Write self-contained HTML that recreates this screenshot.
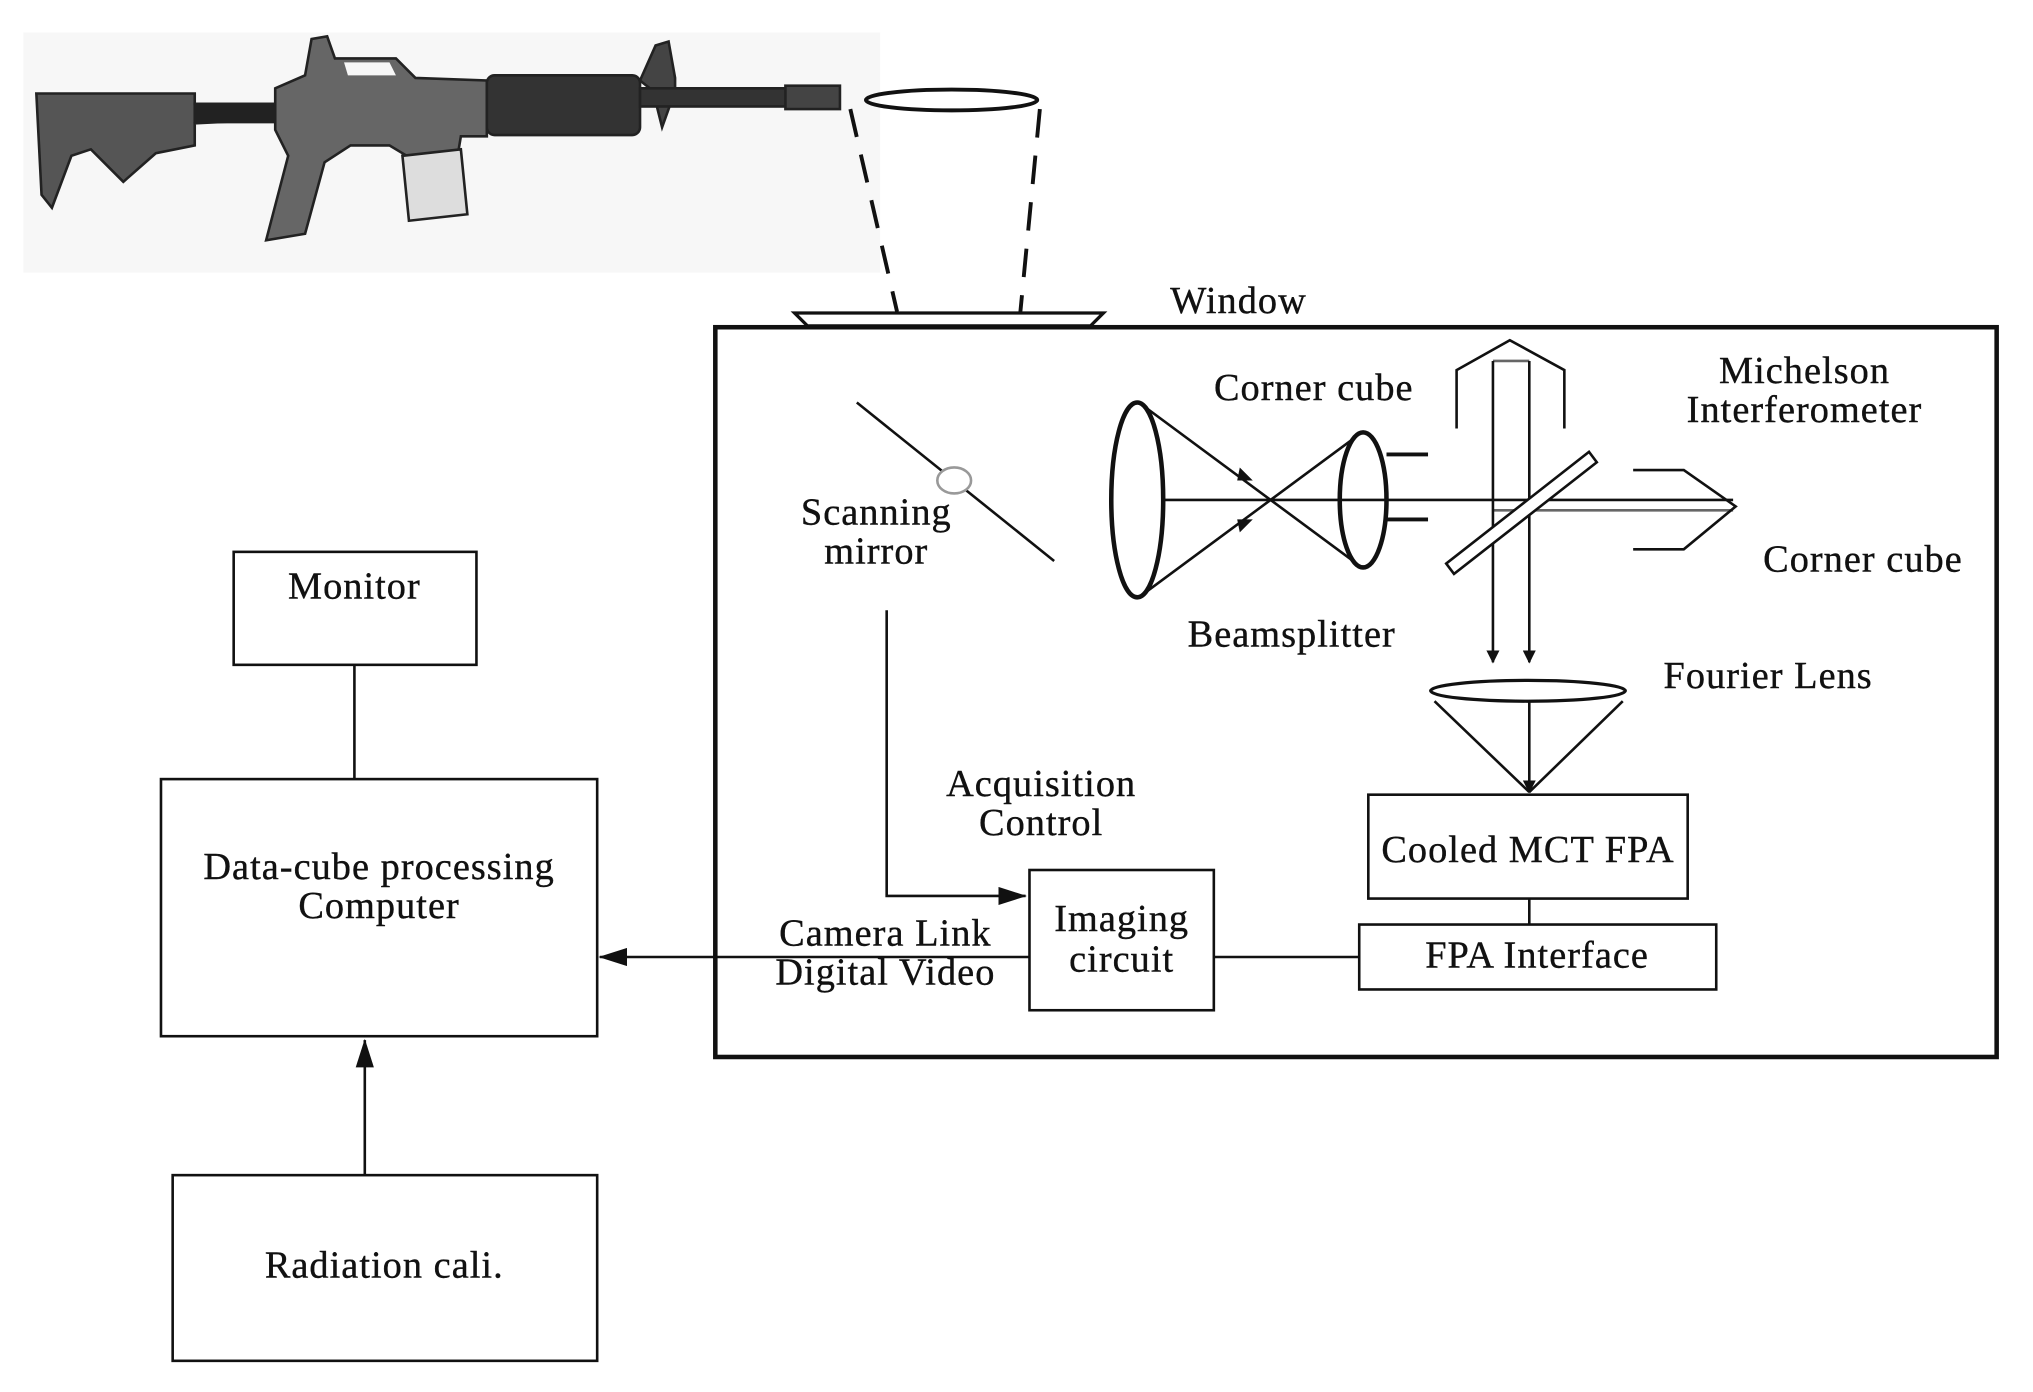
<!DOCTYPE html>
<html><head><style>html,body{margin:0;padding:0;background:#fff}svg{display:block}
text{font-family:"Liberation Serif",serif;font-size:29.5px;letter-spacing:0.8px;fill:#111;stroke:#111;stroke-width:0.3px}</style></head>
<body>
<svg width="2033" height="1392" viewBox="0 0 1566 1072" preserveAspectRatio="none" xmlns="http://www.w3.org/2000/svg">
<defs><marker id="a" markerWidth="10" markerHeight="10" refX="9" refY="5" orient="auto" markerUnits="userSpaceOnUse" viewBox="0 0 10 10"><path d="M0,0 L10,5 L0,10z" fill="#111"/></marker>
<marker id="b" markerWidth="22" markerHeight="14" refX="21" refY="7" orient="auto" markerUnits="userSpaceOnUse" viewBox="0 0 22 14"><path d="M0,0 L22,7 L0,14z" fill="#111"/></marker></defs>
<rect x="18" y="25" width="660" height="185" fill="#f7f7f7"/>
<g fill="#3a3a3a" stroke="#222" stroke-width="2">
<path d="M28,72 L150,72 L150,80 L210,80 L210,92 L150,95 L150,112 L120,118 L95,140 L70,115 L55,120 L40,160 L32,150 Z" fill="#555"/>
<rect x="150" y="80" width="65" height="14" fill="#222"/>
<path d="M212,68 L235,58 L240,30 L252,28 L258,45 L305,45 L320,60 L375,62 L375,105 L355,105 L350,135 L330,130 L300,112 L270,112 L250,125 L235,180 L205,185 L222,120 L212,100 Z" fill="#666"/>
<path d="M265,48 L300,48 L305,58 L268,58 Z" fill="#f7f7f7" stroke="none"/>
<path d="M310,120 L355,115 L360,165 L315,170 Z" fill="#ddd"/>
<rect x="375" y="58" width="118" height="46" rx="6" fill="#333"/>
<path d="M493,62 L505,35 L515,32 L520,60 L520,70 L510,98 L503,70 Z" fill="#444"/>
<rect x="493" y="68" width="115" height="14" fill="#333"/>
<rect x="605" y="66" width="42" height="18" fill="#444"/>
</g>
<ellipse cx="733" cy="77" rx="66" ry="8" fill="none" stroke="#111" stroke-width="3"/>
<g stroke="#111" stroke-width="3" stroke-dasharray="22,14" fill="none">
<line x1="655" y1="84" x2="691" y2="240"/><line x1="801" y1="84" x2="786" y2="240"/></g>
<path d="M612,241 L850,241 L840,251 L622,251 Z" fill="none" stroke="#111" stroke-width="2.5"/>
<rect x="551" y="252" width="987" height="562" fill="none" stroke="#111" stroke-width="3.5"/>
<g stroke="#111" stroke-width="2" fill="none">
<line x1="660" y1="310" x2="812" y2="432"/>
<ellipse cx="735" cy="370" rx="13" ry="10" fill="#fff" stroke="#999"/>
<ellipse cx="876" cy="385" rx="20" ry="75" stroke-width="3.5"/>
<ellipse cx="1050" cy="385" rx="18" ry="52" stroke-width="3.5"/>
<line x1="880" y1="312" x2="1045" y2="434"/>
<line x1="880" y1="458" x2="1045" y2="336"/>
<path d="M955,360 l10,10 -12,0z" fill="#111" stroke="none"/>
<path d="M955,410 l10,-10 -12,0z" fill="#111" stroke="none"/>
<line x1="896" y1="385" x2="1335" y2="385"/>
<line x1="1150" y1="393" x2="1335" y2="393" stroke="#666"/>
<line x1="1068" y1="350" x2="1100" y2="350" stroke-width="3"/>
<line x1="1068" y1="400" x2="1100" y2="400" stroke-width="3"/>
<path d="M1122,330 L1122,285 L1163,262 L1205,285 L1205,330"/>
<line x1="1150" y1="278" x2="1178" y2="278" stroke="#666"/>
<line x1="1150" y1="278" x2="1150" y2="510" marker-end="url(#a)"/>
<line x1="1178" y1="278" x2="1178" y2="510" marker-end="url(#a)"/>
<path d="M1114,434 L1224,348 L1230,356 L1120,442 Z" fill="#fff"/>
<path d="M1258,362 L1297,362 L1337,390 L1297,423 L1258,423"/>
<ellipse cx="1177" cy="532" rx="75" ry="8" stroke-width="2.5"/>
<line x1="1105" y1="540" x2="1178" y2="610"/><line x1="1250" y1="540" x2="1178" y2="610"/>
<line x1="1178" y1="540" x2="1178" y2="610" marker-end="url(#a)"/>
<rect x="1054" y="612" width="246" height="80"/>
<line x1="1178" y1="692" x2="1178" y2="712"/>
<rect x="1047" y="712" width="275" height="50"/>
<rect x="793" y="670" width="142" height="108"/>
<line x1="935" y1="737" x2="1047" y2="737"/>
<line x1="793" y1="737" x2="462" y2="737" marker-end="url(#b)"/>
<path d="M683,470 L683,690 L790,690" marker-end="url(#b)"/>
<rect x="180" y="425" width="187" height="87"/>
<line x1="273" y1="512" x2="273" y2="600"/>
<rect x="124" y="600" width="336" height="198"/>
<rect x="133" y="905" width="327" height="143"/>
<line x1="281" y1="905" x2="281" y2="801" marker-end="url(#b)"/>
</g>
<text x="954" y="241" text-anchor="middle">Window</text>
<text x="675" y="404" text-anchor="middle">Scanning</text>
<text x="675" y="434" text-anchor="middle">mirror</text>
<text x="1012" y="308" text-anchor="middle">Corner cube</text>
<text x="1390" y="295" text-anchor="middle">Michelson</text>
<text x="1390" y="325" text-anchor="middle">Interferometer</text>
<text x="1435" y="440" text-anchor="middle">Corner cube</text>
<text x="995" y="498" text-anchor="middle">Beamsplitter</text>
<text x="1362" y="530" text-anchor="middle">Fourier Lens</text>
<text x="802" y="613" text-anchor="middle">Acquisition</text>
<text x="802" y="643" text-anchor="middle">Control</text>
<text x="1177" y="664" text-anchor="middle">Cooled MCT FPA</text>
<text x="1184" y="745" text-anchor="middle">FPA Interface</text>
<text x="864" y="717" text-anchor="middle">Imaging</text>
<text x="864" y="748" text-anchor="middle">circuit</text>
<text x="682" y="728" text-anchor="middle">Camera Link</text>
<text x="682" y="758" text-anchor="middle">Digital Video</text>
<text x="273" y="461" text-anchor="middle">Monitor</text>
<text x="292" y="677" text-anchor="middle">Data-cube processing</text>
<text x="292" y="707" text-anchor="middle">Computer</text>
<text x="296" y="984" text-anchor="middle">Radiation cali.</text>
</svg>
</body></html>
